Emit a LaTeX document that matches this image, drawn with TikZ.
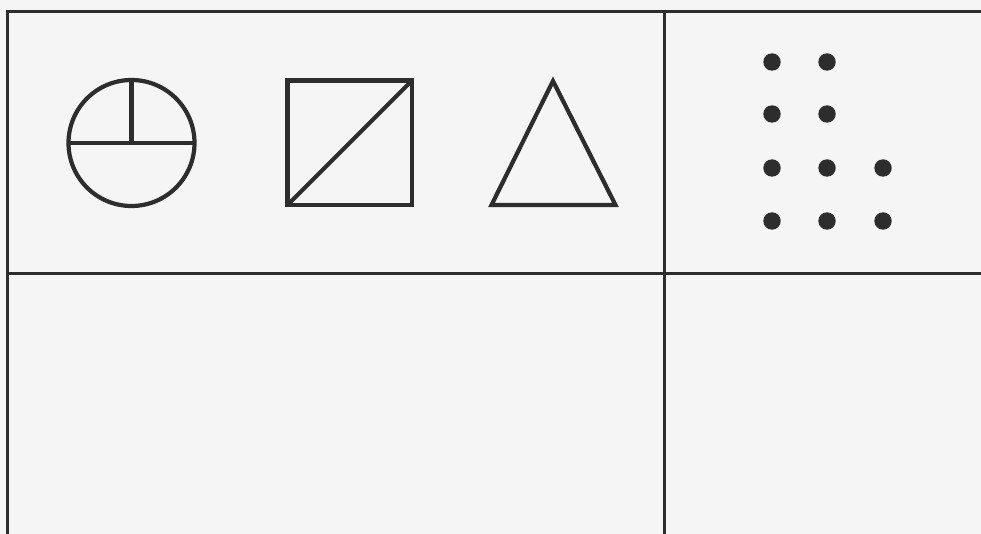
\documentclass[tikz,border=0pt]{standalone}
\definecolor{paper}{RGB}{245,245,245}
\definecolor{ink}{RGB}{45,45,45}
\tikzset{
  grid line/.style={draw=ink, line width=2.6pt},
  figure line/.style={draw=ink, line width=4.2pt, line join=miter},
  dot/.style={fill=ink}
}
\begin{document}
\begin{tikzpicture}[x=1pt,y=-1pt]
\fill[paper] (0,0) rectangle (981,534);
\useasboundingbox (0,0) rectangle (981,534);
% grid
\draw[grid line] (7.5,534) -- (7.5,11.5) -- (981,11.5);
\draw[grid line] (664.5,11.5) -- (664.5,534);
\draw[grid line] (7.5,273.5) -- (981,273.5);
% circle with T
\draw[figure line] (131.5,143) circle[radius=63];
\draw[figure line] (68.5,143) -- (194.5,143);
\draw[figure line] (131.5,80) -- (131.5,143);
% square with diagonal
\draw[figure line] (287.5,80.5) rectangle (412,205);
\draw[figure line] (287.5,205) -- (412,80.5);
% triangle
\draw[figure line] (491.5,205) -- (615.5,205) -- (553,81) -- cycle;
% dots
\foreach \x/\y in {772/62,827/62,772/114,827/114,772/168,827/168,883/168,772/221,827/221,883/221}
  \fill[dot] (\x,\y) circle[radius=8.7];
\end{tikzpicture}
\end{document}
